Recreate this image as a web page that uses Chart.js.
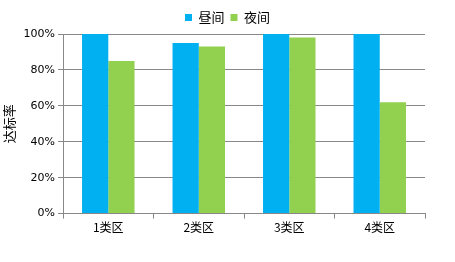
<!DOCTYPE html>
<html><head><meta charset="utf-8">
<script src="https://cdn.jsdelivr.net/npm/chart.js@4/dist/chart.umd.min.js"></script>
<style>html,body{margin:0;padding:0;background:#fff}#w{width:455px;height:262px}</style>
</head><body><div id="w"><canvas id="c"></canvas></div>
<script>
const categories = ['1类区','2类区','3类区','4类区'];
const dayValues = [100, 95, 100, 100];
const nightValues = [85, 93, 98, 62];
const seriesNames = ['昼间','夜间'];
const yTicks = [0,20,40,60,80,100];

const centerLegend = {
  id: 'centerLegend',
  afterLayout(chart) {
    const lg = chart.legend;
    if (!lg) return;
    const d = chart.width / 2 - (lg.left + lg.right) / 2;
    lg.left += d; lg.right += d;
  }
};

new Chart(document.getElementById('c'), {
  type: 'bar',
  data: {
    labels: categories,
    datasets: [
      {label: seriesNames[0], data: dayValues, backgroundColor: '#00B0F0', categoryPercentage: 0.58, barPercentage: 1},
      {label: seriesNames[1], data: nightValues, backgroundColor: '#92D050', categoryPercentage: 0.58, barPercentage: 1}
    ]
  },
  plugins: [centerLegend],
  options: {
    responsive: true, maintainAspectRatio: false, animation: false,
    layout: {padding: {left: 1, right: 30, top: 5, bottom: 25}},
    plugins: {
      tooltip: {enabled: false},
      legend: {
        position: 'top',
        labels: {boxWidth: 7, boxHeight: 7, padding: 6, color: '#000',
          font: {family: '"Noto Sans CJK SC", sans-serif', size: 13}}
      }
    },
    scales: {
      x: {
        grid: {display: true, drawOnChartArea: false, color: '#888', tickLength: 5, offset: true},
        border: {color: '#888'},
        ticks: {color: '#000', font: {family: '"Noto Sans CJK SC", serif', size: 12}, padding: 2}
      },
      y: {
        min: 0, max: 100,
        afterBuildTicks: (ax) => { ax.ticks = yTicks.map(v => ({value: v})); },
        grid: {color: '#888', tickLength: 5},
        border: {color: '#888'},
        ticks: {color: '#000', font: {family: '"DejaVu Sans", sans-serif', size: 11}, padding: 3,
          callback: v => v + '%'},
        title: {display: true, text: '达标率', color: '#000',
          font: {family: '"Noto Sans CJK SC", sans-serif', size: 13}, padding: {top: 0, bottom: 4}}
      }
    }
  }
});
</script>
</body></html>
